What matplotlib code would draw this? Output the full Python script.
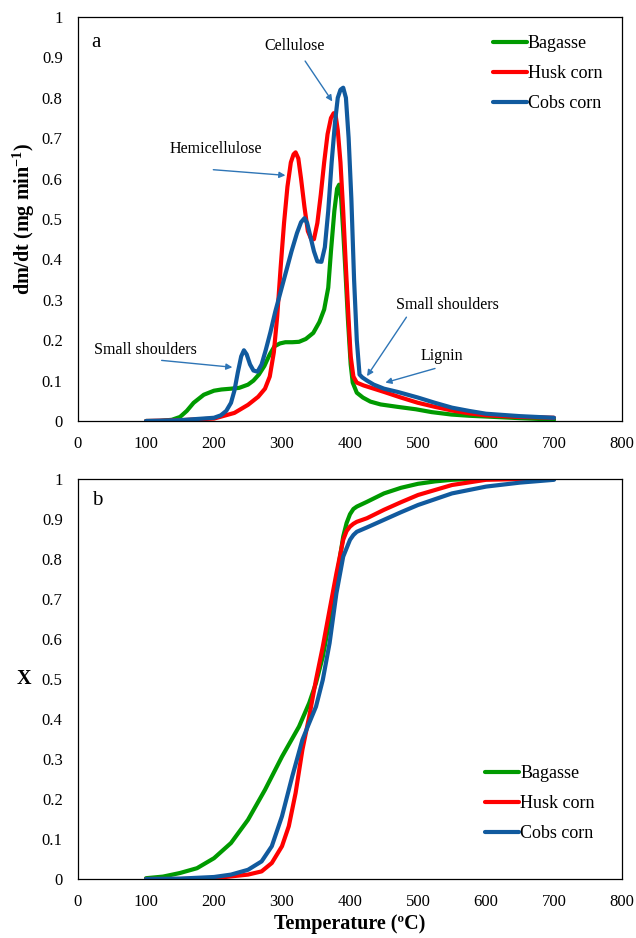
import matplotlib
matplotlib.use("Agg")
import matplotlib.pyplot as plt

# TGA / DTG curves for three biomasses

series_names = ["Bagasse", "Husk corn", "Cobs corn"]

# panel a: dm/dt (mg min-1)
bag_t = [100, 120, 138, 150, 160, 170, 185, 200, 211, 225, 237, 250, 258, 266, 274, 282, 289, 297,
         305, 315, 325, 335, 346, 355, 362, 368, 372, 377, 381, 384, 387, 390, 393, 397, 401, 404,
         410, 419, 430, 445, 470, 497, 520, 549, 575, 601, 650, 695, 700]
bag_dtg = [0, 0, 0.003, 0.01, 0.025, 0.045, 0.065, 0.075, 0.078, 0.08, 0.082, 0.09, 0.10, 0.115,
           0.136, 0.165, 0.185, 0.192, 0.195, 0.195, 0.196, 0.203, 0.218, 0.245, 0.276, 0.33, 0.42,
           0.52, 0.575, 0.585, 0.55, 0.47, 0.38, 0.25, 0.14, 0.095, 0.07, 0.058, 0.048, 0.041, 0.035,
           0.029, 0.022, 0.016, 0.013, 0.011, 0.007, 0.004, 0.003]

husk_t = [100, 150, 200, 230, 250, 265, 275, 282, 288, 293, 298, 303, 308, 313, 317, 320, 324, 328,
          333, 338, 343, 347, 352, 357, 362, 367, 372, 376, 379, 382, 386, 390, 394, 398, 401, 405,
          410, 420, 435, 450, 475, 500, 525, 550, 575, 600, 650, 700]
husk_dtg = [0, 0.002, 0.006, 0.02, 0.04, 0.06, 0.08, 0.11, 0.17, 0.26, 0.38, 0.49, 0.58, 0.64, 0.66,
            0.665, 0.65, 0.6, 0.53, 0.47, 0.45, 0.45, 0.49, 0.56, 0.64, 0.71, 0.75, 0.762, 0.755,
            0.72, 0.64, 0.52, 0.38, 0.25, 0.16, 0.11, 0.095, 0.088, 0.08, 0.072, 0.058, 0.045, 0.035,
            0.026, 0.019, 0.014, 0.01, 0.008]

cobs_t = [100, 150, 200, 210, 218, 225, 230, 235, 240, 244, 248, 253, 258, 264, 270, 276, 283, 290,
          298, 306, 314, 322, 328, 333, 337, 342, 347, 352, 358, 363, 368, 373, 378, 382, 386, 390,
          394, 398, 402, 406, 410, 414, 418, 425, 435, 450, 470, 500, 525, 550, 575, 600, 650, 700]
cobs_dtg = [0, 0.002, 0.008, 0.014, 0.025, 0.045, 0.075, 0.12, 0.16, 0.175, 0.165, 0.14, 0.125,
            0.122, 0.14, 0.175, 0.22, 0.27, 0.32, 0.37, 0.42, 0.465, 0.492, 0.502, 0.49, 0.455, 0.42,
            0.395, 0.394, 0.43, 0.52, 0.64, 0.74, 0.8, 0.82, 0.825, 0.8, 0.7, 0.55, 0.35, 0.2, 0.115,
            0.108, 0.1, 0.09, 0.08, 0.072, 0.058, 0.045, 0.033, 0.025, 0.018, 0.012, 0.008]

# panel b: conversion X
bag_xt = [100, 125, 150, 175, 200, 225, 250, 275, 300, 325, 340, 350, 360, 370, 380, 390, 395, 400,
          405, 410, 425, 450, 475, 500, 525, 550, 575, 600, 700]
bag_x = [0.002, 0.006, 0.015, 0.027, 0.052, 0.09, 0.148, 0.223, 0.306, 0.381, 0.44, 0.49, 0.556,
         0.648, 0.748, 0.856, 0.89, 0.912, 0.925, 0.931, 0.943, 0.964, 0.978, 0.988, 0.994, 0.998,
         1.0, 1.0, 1.0]

husk_xt = [100, 150, 200, 250, 270, 285, 300, 310, 320, 330, 340, 350, 360, 370, 380, 390, 395, 400,
           405, 410, 425, 450, 475, 500, 550, 600, 650, 700]
husk_x = [0, 0, 0.002, 0.011, 0.019, 0.04, 0.082, 0.132, 0.215, 0.323, 0.406, 0.498, 0.581, 0.673,
          0.764, 0.848, 0.87, 0.881, 0.888, 0.893, 0.902, 0.923, 0.942, 0.96, 0.985, 0.998, 1.0, 1.0]

cobs_xt = [100, 150, 200, 225, 250, 270, 285, 300, 315, 330, 340, 350, 360, 370, 380, 390, 400, 405,
           410, 425, 450, 475, 500, 550, 600, 650, 700]
cobs_x = [0, 0.001, 0.005, 0.011, 0.023, 0.044, 0.082, 0.157, 0.256, 0.348, 0.39, 0.431, 0.498,
          0.59, 0.714, 0.806, 0.848, 0.86, 0.868, 0.879, 0.898, 0.917, 0.935, 0.964, 0.981, 0.991,
          0.998]

# annotations: text, text position, arrow tail, arrow head
notes = [
    ("Cellulose", (319, 0.927), (334, 0.891), (374, 0.791)),
    ("Hemicellulose", (203, 0.674), (199, 0.622), (305, 0.608)),
    ("Small shoulders", (99, 0.175), (123, 0.150), (227, 0.133)),
    ("Small shoulders", (543, 0.287), (483, 0.257), (425, 0.111)),
    ("Lignin", (535, 0.161), (525, 0.130), (452, 0.095)),
]

colors = ["#009A00", "#FF0000", "#115A9E"]
arrow_color = "#2E75B6"

plt.rcParams["font.family"] = ["Liberation Serif", "DejaVu Serif"]
plt.rcParams["mathtext.fontset"] = "custom"
plt.rcParams["mathtext.rm"] = "Liberation Serif"
plt.rcParams["mathtext.bf"] = "Liberation Serif:bold"

fig = plt.figure(figsize=(6.36, 9.38), dpi=100)
ax1 = fig.add_axes([78 / 636, 1 - 421 / 938, 544 / 636, 404 / 938])
ax2 = fig.add_axes([78 / 636, 1 - 879 / 938, 544 / 636, 400 / 938])


def style_axis(ax):
    ax.set_xlim(0, 800)
    ax.set_ylim(0, 1)
    ax.set_xticks(range(0, 801, 100))
    yt = [i / 10 for i in range(11)]
    ax.set_yticks(yt)
    ax.set_yticklabels([f"{v:g}" for v in yt])
    ax.tick_params(axis="both", length=0, labelsize=12)
    ax.tick_params(axis="x", pad=11)
    ax.tick_params(axis="y", pad=11)
    for s in ax.spines.values():
        s.set_linewidth(0.9)
        s.set_color("black")


lw = 3
for t, v, c, n in zip([bag_t, husk_t, cobs_t], [bag_dtg, husk_dtg, cobs_dtg], colors, series_names):
    ax1.plot(t, v, color=c, lw=lw, label=n, solid_capstyle="round", solid_joinstyle="round")
for t, v, c, n in zip([bag_xt, husk_xt, cobs_xt], [bag_x, husk_x, cobs_x], colors, series_names):
    ax2.plot(t, v, color=c, lw=lw, label=n, solid_capstyle="round", solid_joinstyle="round")

style_axis(ax1)
style_axis(ax2)

for text, tpos, tail, head in notes:
    ax1.text(tpos[0], tpos[1], text, fontsize=11.5, ha="center", va="center")
    ax1.annotate("", xy=head, xytext=tail,
                 arrowprops=dict(arrowstyle="-|>", color=arrow_color, lw=1,
                                 mutation_scale=9, shrinkA=0, shrinkB=0))

ax1.text(26, 0.937, "a", fontsize=15, ha="center", va="center")
ax2.text(28, 0.946, "b", fontsize=15, ha="center", va="center")

ax1.set_ylabel(r"dm/dt (mg min$^{\mathbf{-1}}$)", fontsize=14.5, fontweight="bold",
               rotation=90, ha="center", va="center")
ax1.yaxis.set_label_coords(-0.1, 0.5)
ax2.set_ylabel("X", fontsize=14.5, fontweight="bold", rotation=0, ha="center", va="center")
ax2.yaxis.set_label_coords(-0.1, 0.5)
ax2.set_xlabel("Temperature (ºC)", fontsize=14.5, fontweight="bold", va="center")
ax2.xaxis.set_label_coords(0.5, -0.1125)

leg_kw = dict(frameon=False, fontsize=13, handlelength=1.9, handletextpad=0.05,
              labelspacing=0.72, borderpad=0, borderaxespad=0, loc="upper left")
ax1.legend(bbox_to_anchor=(0.762, 0.955), **leg_kw)
ax2.legend(bbox_to_anchor=(0.748, 0.285), **leg_kw)

fig.savefig("out.png", dpi=100)
